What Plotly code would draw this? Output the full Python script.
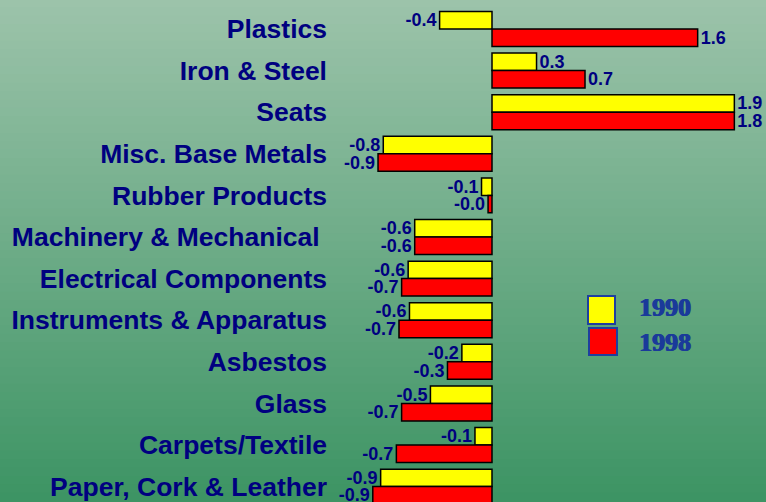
import plotly.graph_objects as go

categories = ["Plastics", "Iron & Steel", "Seats", "Misc. Base Metals", "Rubber Products",
              "Machinery & Mechanical\u00a0", "Electrical Components", "Instruments & Apparatus",
              "Asbestos", "Glass", "Carpets/Textile", "Paper, Cork & Leather"]
values_1990 = [-0.40, 0.34, 1.85, -0.83, -0.08, -0.59, -0.64, -0.63, -0.23, -0.47, -0.13, -0.85]
values_1998 = [1.57, 0.71, 1.85, -0.87, -0.03, -0.59, -0.69, -0.71, -0.34, -0.69, -0.73, -0.91]
labels_1990 = ["-0.4", "0.3", "1.9", "-0.8", "-0.1", "-0.6", "-0.6", "-0.6", "-0.2", "-0.5", "-0.1", "-0.9"]
labels_1998 = ["1.6", "0.7", "1.8", "-0.9", "-0.0", "-0.6", "-0.7", "-0.7", "-0.3", "-0.7", "-0.7", "-0.9"]
series_names = ["1990", "1998"]
series_colors = ["#FFFF00", "#FF0000"]

W, H = 766, 502
L = 333
NAVY = "#000080"

fig = go.Figure()
for name, vals, labs, col in zip(series_names, [values_1990, values_1998],
                                 [labels_1990, labels_1998], series_colors):
    fig.add_trace(go.Bar(
        y=categories, x=vals, orientation="h", name=name,
        marker=dict(color=col, line=dict(color="#000000", width=1.5)),
        text=labs, textposition="outside", cliponaxis=False, constraintext="none",
        textfont=dict(family="Liberation Sans, Arial", size=18, color=NAVY, weight="bold"),
        showlegend=False, hoverinfo="skip",
    ))

# background gradient stripes
top = (0x9c, 0xc3, 0xaa)
bot = (0x3d, 0x94, 0x64)
shapes = []
N = 60
for i in range(N):
    t = i / (N - 1)
    c = tuple(round(top[k] + (bot[k] - top[k]) * t) for k in range(3))
    shapes.append(dict(type="rect", xref="paper", yref="paper", layer="below",
                       x0=-1, x1=1.01, y0=1 - (i + 1) / N - 0.002, y1=1 - i / N + 0.002,
                       fillcolor="rgb(%d,%d,%d)" % c, line=dict(width=0)))

# legend keys
pw = W - L
def px2x(p):
    return (p - L) / pw
def py2y(p):
    return 1 - p / H

LEG = "#1a3a9a"
legend_boxes = [(588, 296, 615, 324), (589, 328, 617, 355)]
legend_text_y = [307.5, 342.5]
annotations = []
for (x0, y0, x1, y1), col, name, ty in zip(legend_boxes, series_colors, series_names, legend_text_y):
    shapes.append(dict(type="rect", xref="paper", yref="paper",
                       x0=px2x(x0), x1=px2x(x1), y0=py2y(y1), y1=py2y(y0),
                       fillcolor=col, line=dict(color="#1f3f9f", width=2)))
    annotations.append(dict(xref="paper", yref="paper", x=px2x(637), y=py2y(ty),
                            xanchor="left", yanchor="middle", showarrow=False,
                            text="<b>%s</b>" % name,
                            font=dict(family="Liberation Serif, Times New Roman", size=26,
                                      color=LEG,
                                      shadow="0.7px 0 0 %s, -0.4px 0 0 %s" % (LEG, LEG))))

fig.update_layout(
    width=W, height=H,
    margin=dict(l=L, r=0, t=0, b=0),
    paper_bgcolor="#6caa88", plot_bgcolor="rgba(0,0,0,0)",
    barmode="group", bargap=0.16, bargroupgap=0,
    shapes=shapes, annotations=annotations,
    xaxis=dict(range=[-159 / 131, (W - 492) / 131], showgrid=False, zeroline=False,
               showticklabels=False, showline=False, fixedrange=True),
    yaxis=dict(type="category", range=[11.37, -0.697], showgrid=False, zeroline=False,
               showline=False, ticks="", ticklabelstandoff=5, fixedrange=True,
               tickfont=dict(family="Liberation Sans, Arial", size=26.5, color=NAVY, weight="bold")),
)

fig.write_html("out.html", config={"displayModeBar": False},
               post_script="document.body.style.margin='0px';document.body.style.overflow='hidden';")
